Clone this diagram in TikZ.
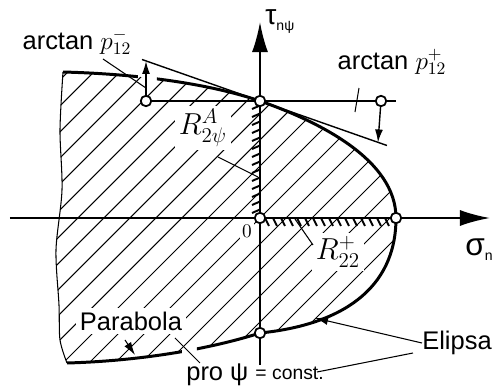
\documentclass[tikz,border=0pt]{standalone}
\usepackage[no-math]{fontspec}
\setmainfont{Liberation Sans}
\usetikzlibrary{arrows.meta, positioning, calc}

\begin{document}
\begin{tikzpicture}[
  knot/.style={circle, draw, fill=white, line width=1pt, inner sep=0pt, minimum size=0.21cm},
  bound/.style={line width=1.7pt},
  axis/.style={line width=1.1pt, -{Latex[length=6mm, width=3.2mm]}},
  lead/.style={line width=0.6pt},
  hatchline/.style={line width=0.6pt},
  tooth/.style={line width=1.1pt},
  lbl/.style={font=\fontsize{14.5}{17}\selectfont, inner sep=0pt},
  mlbl/.style={font=\fontsize{16.5}{19}\selectfont, inner sep=2pt, fill=white},
  >={Latex[length=2.6mm, width=1.6mm]}
]
  \useasboundingbox (-5.2,-3.46) rectangle (4.72,4.36);

  % hatched region
  \begin{scope}
    \clip (-3.94,2.92) .. controls (-2.4,2.88) and (-1.0,2.68) .. (0,2.34)
      .. controls (1.2,1.92) and (2.72,1.16) .. (2.72,0)
      .. controls (2.72,-1.44) and (1.6,-2.14) .. (0,-2.3)
      .. controls (-1.0,-2.62) and (-2.4,-2.86) .. (-3.86,-2.9)
      -- plot[smooth] coordinates {(-4.0,-2.44) (-4.02,-1.74) (-4.08,-0.64) (-3.96,0.56) (-4.0,1.76) (-3.94,2.92)}
      -- cycle;
    \foreach \k in {-12,...,14}
      \draw[hatchline] (-6,{-6+0.52*\k}) -- ++(12,12);
  \end{scope}
  \draw[lead] plot[smooth] coordinates {(-3.86,-2.9) (-4.0,-2.44) (-4.02,-1.74) (-4.08,-0.64) (-3.96,0.56) (-4.0,1.76) (-3.94,2.92)};

  % teeth on the axes
  \foreach \y in {0.1,0.26,...,2.2}
    \draw[tooth] (-0.16,\y) -- (0,\y+0.07);
  \foreach \x in {0.1,0.26,...,2.55}
    \draw[tooth] (\x,0) -- (\x+0.08,-0.16);

  % axes
  \coordinate (sL) at (-5.0,0);
  \coordinate (sR) at (4.6,0);
  \coordinate (tD) at (0,-2.94);
  \coordinate (tU) at (0,3.92);
  \draw[axis] (sL) -- (sR);
  \draw[axis] (tD) -- (tU);

  % boundary curves (gaps where the leaders cross)
  \begin{scope}[even odd rule]
    \clip (-5.2,-3.46) rectangle (4.72,4.36)
      (-2.44,2.6) rectangle (-2.06,3.1) (-1.56,-2.5) rectangle (-1.26,-3.1);
    \draw[bound] (-3.94,2.92) .. controls (-2.4,2.88) and (-1.0,2.68) .. (0,2.34);
    \draw[bound] (-3.86,-2.9) .. controls (-2.4,-2.86) and (-1.0,-2.62) .. (0,-2.3);
  \end{scope}
  \draw[bound] (0,2.34) .. controls (1.2,1.92) and (2.72,1.16) .. (2.72,0)
    .. controls (2.72,-1.44) and (1.6,-2.14) .. (0,-2.3);

  % tangent
  \coordinate (tgA) at (-2.36,3.17);
  \coordinate (tgB) at (2.54,1.45);
  \draw[line width=0.8pt] (tgA) -- (tgB);

  % points
  \node[knot] (O) at (0,0) {};
  \node[knot] (T) at (0,2.34) {};
  \node[knot] (R) at (2.72,0) {};
  \node[knot] (B) at (0,-2.3) {};
  \node[knot] (L) at (-2.28,2.34) {};
  \node[knot] (P) at (2.42,2.34) {};

  \coordinate (hE) at (2.72,2.34);
  \draw[line width=0.9pt] (L) -- (T);
  \draw[line width=0.9pt] (T) -- (P);
  \draw[line width=0.9pt] (P) -- (hE);
  \coordinate (aL) at (-2.28,3.14);
  \coordinate (aP) at (2.36,1.51);
  \draw[->, line width=0.8pt] (L) -- (aL);
  \draw[->, line width=0.8pt] (P) -- (aP);

  % labels
  \node[anchor=base west, inner sep=0pt, font=\fontsize{16}{19}\selectfont] (tau) at (0.1,3.86)
    {τ\raisebox{-0.4ex}{\fontsize{8}{9}\selectfont nψ}};
  \node[anchor=base west, inner sep=0pt, font=\fontsize{18}{21}\selectfont] (sig) at (4.1,-0.74)
    {σ\raisebox{-0.3ex}{\fontsize{8}{9}\selectfont n}};
  \node[font=\fontsize{11}{13}\selectfont, inner sep=1pt, fill=white] (zero) at (-0.26,-0.26) {$0$};

  \node[lbl] (lm) at (-3.66,3.52) {arctan $p_{12}^-$};
  \node[lbl] (lp) at (2.64,3.12) {arctan $p_{12}^+$};
  \coordinate (lmA) at (-3.14,3.18);
  \coordinate (lmB) at (-2.28,2.6);
  \draw[lead] (lmA) -- (lmB);
  \coordinate (lpA) at (1.98,2.6);
  \coordinate (lpB) at (1.9,2.12);
  \draw[lead] (lpA) -- (lpB);

  \node[mlbl] (rA) at (-1.14,1.8) {$R_{2\psi}^{A}$};
  \coordinate (rAa) at (-0.84,1.22);
  \coordinate (rAb) at (-0.04,0.82);
  \draw[lead] (rAa) -- (rAb);
  \node[mlbl] (rP) at (1.56,-0.68) {$R_{22}^{+}$};
  \coordinate (rPa) at (0.7,-0.02);
  \coordinate (rPb) at (1.06,-0.54);
  \draw[lead] (rPa) -- (rPb);

  \node[lbl, fill=white, inner sep=2pt] (par) at (-2.58,-2.06) {Parabola};
  \coordinate (parA) at (-2.7,-2.44);
  \coordinate (parB) at (-2.5,-2.74);
  \draw[->, lead] (parA) -- (parB);

  \node[lbl, anchor=base west] (pro) at (-1.48,-3.24)
    {pro ψ {\fontsize{11}{13}\selectfont = const.}};
  \coordinate (proA) at (-1.2,-2.9);
  \coordinate (proB) at (-1.7,-2.4);
  \draw[lead] (proA) -- (proB);

  \node[lbl] (eli) at (3.94,-2.5) {Elipsa};
  \coordinate (eliA) at (1.1,-2.0);
  \coordinate (eliB) at (3.06,-2.7);
  \coordinate (eliC) at (1.14,-3.08);
  \draw[->, lead] (eli.west) -- (eliA);
  \draw[lead] (eliB) -- (eliC);
\end{tikzpicture}
\end{document}
